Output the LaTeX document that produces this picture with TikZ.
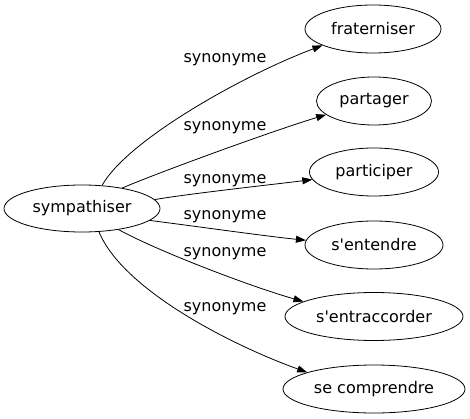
\documentclass[tikz,border=0pt]{standalone}
\usepackage{fontspec}
\setmainfont{DejaVu Sans}
\usepackage{tikz}
\usetikzlibrary{shapes.geometric,arrows.meta}

\begin{document}
\begin{tikzpicture}[x=1pt, y=-1pt,
		mot/.style={ellipse, draw, line width=0.8pt, inner sep=0pt, minimum height=48pt, font=\fontsize{16}{19}\selectfont},
		syn/.style={line width=0.8pt, -{Triangle[length=10pt,width=7pt]}},
		etiquette/.style={anchor=base, inner sep=0pt, font=\fontsize{16}{19}\selectfont}]
		% cadre
		\useasboundingbox (0,0) rectangle (470,419);
		
		% mot de départ
		\node[mot, minimum width=156pt, minimum height=47pt] (src) at (82,208.5) {sympathiser};
		
		% synonymes
		\node[mot, minimum width=136pt] (t1) at (373,29) {fraterniser};
		\node[mot, minimum width=115pt] (t2) at (374,101) {partager};
		\node[mot, minimum width=129pt] (t3) at (374,172) {participer};
		\node[mot, minimum width=138pt] (t4) at (374,245) {s\textquotesingle entendre};
		\node[mot, minimum width=178pt] (t5) at (374,316.5) {s\textquotesingle entraccorder};
		\node[mot, minimum width=182pt] (t6) at (374,389) {se comprendre};
		
		% arcs
		\draw[syn] (src.49) .. controls +(25,-45) and +(-80,30) .. (t1.198);
		\draw[syn] (src.27) .. controls +(40,-17) and +(-50,15) .. (t2.196);
		\draw[syn] (src.7) .. controls +(35,-6) and +(-40,5) .. (t3.187);
		\draw[syn] (src.-10) .. controls +(40,5) and +(-40,-4) .. (t4.176);
		\draw[syn] (src.-30) .. controls +(40,22) and +(-50,-14) .. (t5.168);
		\draw[syn] (src.-54) .. controls +(25,60) and +(-70,-25) .. (t6.166);
		
		% étiquettes
		\node[etiquette] (l1) at (225,63) {synonyme};
		\node[etiquette] (l2) at (225,131) {synonyme};
		\node[etiquette] (l3) at (225,184) {synonyme};
		\node[etiquette] (l4) at (225,220) {synonyme};
		\node[etiquette] (l5) at (225,256) {synonyme};
		\node[etiquette] (l6) at (225,311) {synonyme};
	\end{tikzpicture}
\end{document}
